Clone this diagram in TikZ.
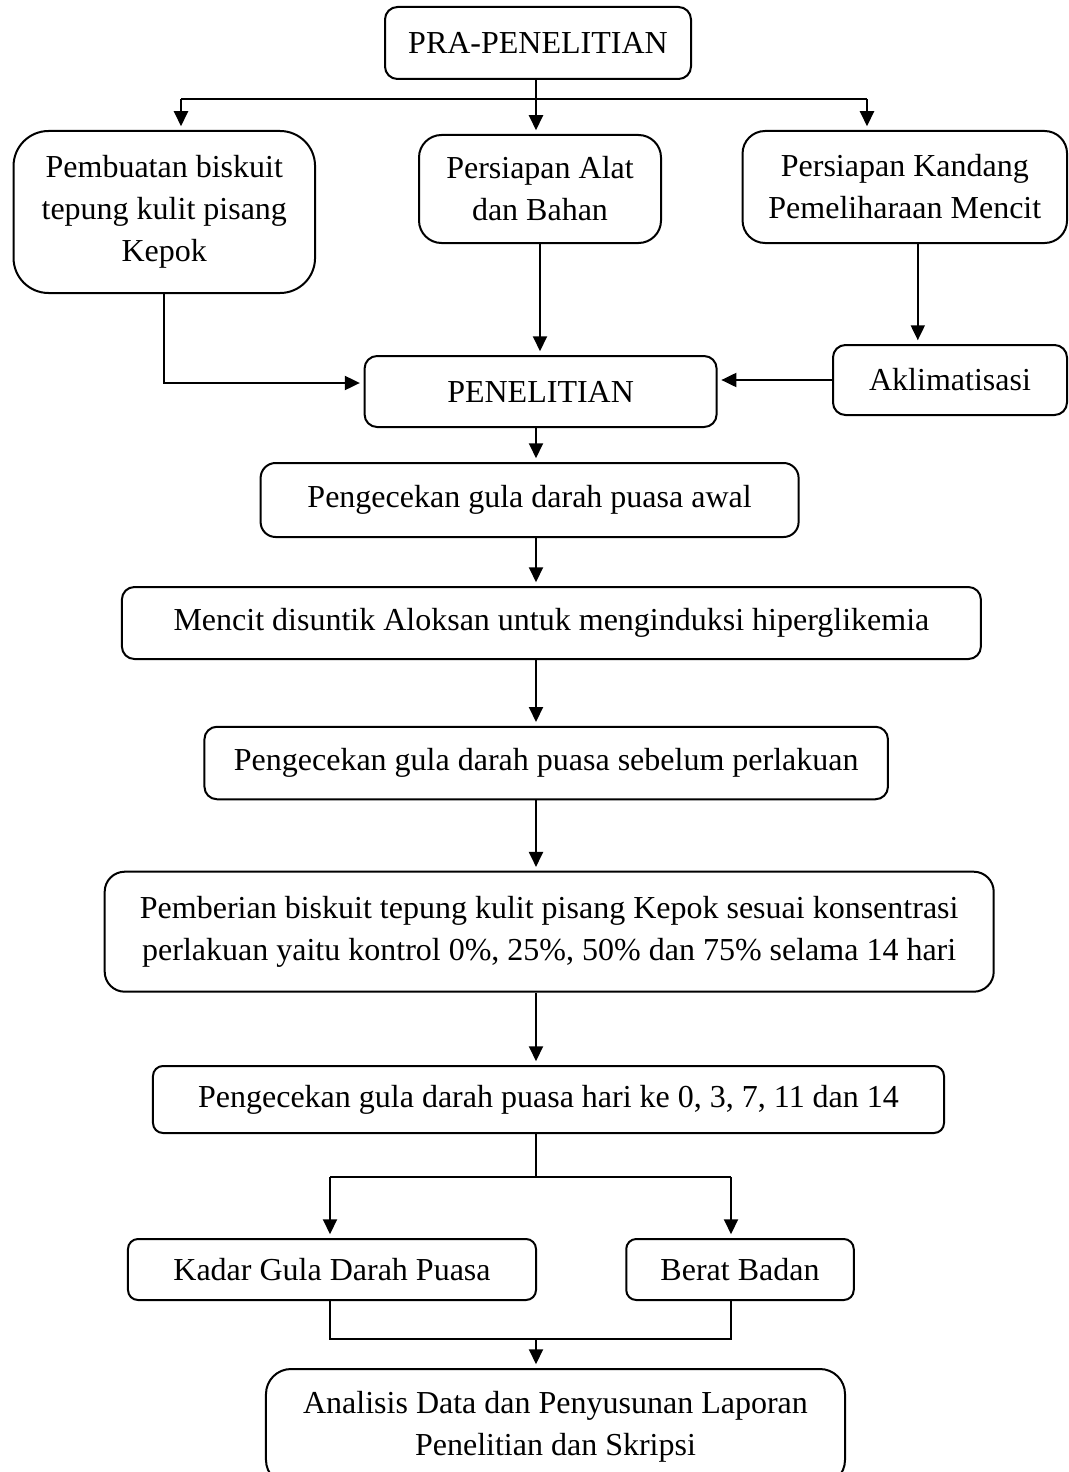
\documentclass[tikz,border=0pt]{standalone}
\usepackage{amsmath}
\usepackage{fontspec}
\setmainfont{Liberation Serif}
\usetikzlibrary{arrows.meta}

\begin{document}
\begin{tikzpicture}[x=0.4pt,y=0.4pt,
    kotak/.style={draw=black, line width=0.8pt, rounded corners=5pt, align=center,
                  font=\fontsize{12.8}{16.8}\selectfont},
    panah/.style={-{Triangle[length=6pt,width=5.6pt]}, line width=0.8pt, shorten >=1.5pt},
    garis/.style={line width=0.8pt}]
    \tikzstyle{every node}+=[inner sep=0pt]
    \useasboundingbox (0,0) rectangle (1068,-1472);
    \node [kotak, minimum width=122.4pt, minimum height=28.8pt] (pra) at (538,-43) {PRA-PENELITIAN};
    \node [kotak, rounded corners=14pt, minimum width=120.6pt, minimum height=64.8pt] (pemb) at (164.3,-212)
        {Pembuatan biskuit\\tepung kulit pisang\\Kepok};
    \node [kotak, rounded corners=9pt, minimum width=96.8pt, minimum height=43.2pt] (alat) at (540,-189)
        {Persiapan Alat\\dan Bahan};
    \node [kotak, rounded corners=9pt, minimum width=129.8pt, minimum height=44.8pt] (kandang) at (904.8,-187)
        {Persiapan Kandang\\Pemeliharaan Mencit};
    \node [kotak, minimum width=140.8pt, minimum height=28.4pt] (penel) at (540.6,-391.5) {PENELITIAN};
    \node [kotak, minimum width=93.6pt, minimum height=28pt] (aklim) at (950,-380) {Aklimatisasi};
    \node [kotak, rounded corners=6pt, minimum width=215.2pt, minimum height=29.6pt] (awal) at (529.6,-500)
        {Pengecekan gula darah puasa awal};
    \node [kotak, minimum width=343.6pt, minimum height=28.8pt] (mencit) at (551.4,-623)
        {Mencit disuntik Aloksan untuk menginduksi hiperglikemia};
    \node [kotak, minimum width=273.4pt, minimum height=29pt] (sebelum) at (546.2,-763)
        {Pengecekan gula darah puasa sebelum perlakuan};
    \node [kotak, rounded corners=8pt, minimum width=355.6pt, minimum height=48pt] (beri) at (549.2,-931.7)
        {Pemberian biskuit tepung kulit pisang Kepok sesuai konsentrasi\\
         perlakuan yaitu kontrol 0\%, 25\%, 50\% dan 75\% selama 14 hari};
    \node [kotak, rounded corners=4pt, minimum width=316.4pt, minimum height=26.8pt] (harike) at (548.5,-1099.5)
        {Pengecekan gula darah puasa hari ke 0, 3, 7, 11 dan 14};
    \node [kotak, rounded corners=4pt, minimum width=163.2pt, minimum height=24.4pt] (kadar) at (332,-1269.5)
        {Kadar Gula Darah Puasa};
    \node [kotak, rounded corners=4pt, minimum width=91pt, minimum height=24.4pt] (berat) at (740,-1269.5)
        {Berat Badan};
    \node [kotak, rounded corners=10pt, minimum width=231.6pt, minimum height=46.4pt] (analisis) at (555.5,-1427)
        {Analisis Data dan Penyusunan Laporan\\Penelitian dan Skripsi};
    % titik bantu
    \coordinate (sumbu) at (536,0);
    \coordinate (cabKi) at (181,-99);
    \coordinate (cabKa) at (867,-99);
    \coordinate (bagiK) at (330,-1177);
    \coordinate (bagiB) at (731,-1177);
    \coordinate (gabung) at (330,-1339);
    % pra-penelitian
    \draw [garis] (pra.south -| sumbu) -- (cabKi -| sumbu);
    \draw [garis] (cabKi) -- (cabKa);
    \draw [panah] (cabKi) -- (cabKi |- pemb.north);
    \draw [panah] (cabKi -| sumbu) -- (sumbu |- alat.north);
    \draw [panah] (cabKa) -- (cabKa |- kandang.north);
    \draw [panah] (pemb.south) |- ([yshift=3.4pt]penel.west);
    \draw [panah] (alat.south) -- (alat.south |- penel.north);
    \draw [panah] ([xshift=5.2pt]kandang.south) -- ([xshift=5.2pt]kandang.south |- aklim.north);
    \draw [panah] (aklim.west) -- (aklim.west -| penel.east);
    % penelitian
    \foreach \a/\b in {penel/awal, awal/mencit, mencit/sebelum, sebelum/beri, beri/harike}
        \draw [panah] (\a.south -| sumbu) -- (\b.north -| sumbu);
    \draw [garis] (harike.south -| sumbu) -- (bagiK -| sumbu);
    \draw [garis] (bagiK) -- (bagiB);
    \draw [panah] (bagiK) -- (bagiK |- kadar.north);
    \draw [panah] (bagiB) -- (bagiB |- berat.north);
    \draw [garis] (bagiK |- kadar.south) -- (gabung) -| (bagiB |- berat.south);
    \draw [panah] (gabung -| sumbu) -- (sumbu |- analisis.north);
\end{tikzpicture}
\end{document}
